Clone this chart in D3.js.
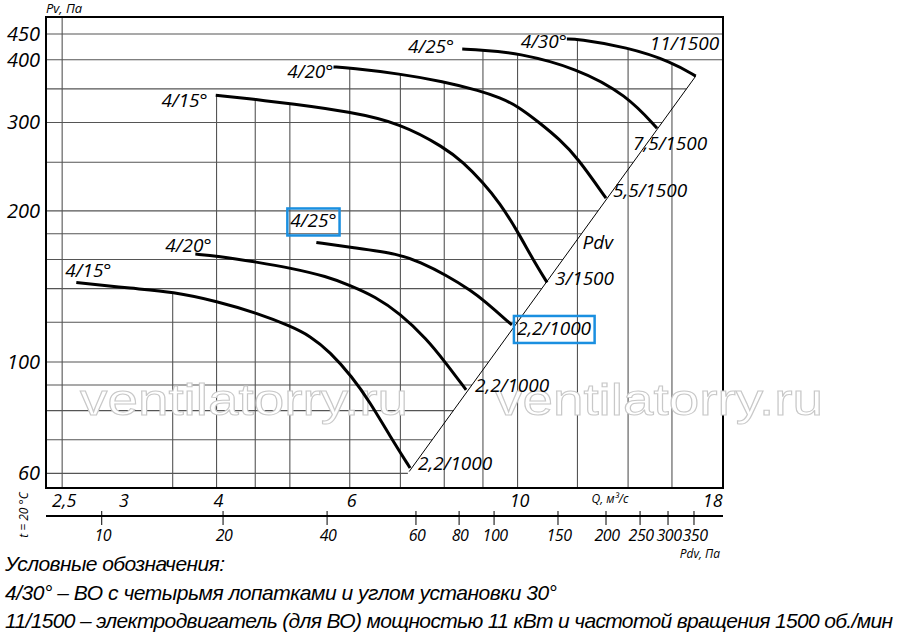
<!DOCTYPE html>
<html>
<head>
<meta charset="utf-8">
<script src="https://cdn.jsdelivr.net/npm/d3@7"></script>
<style>
  body { margin: 0; background: #fff; }
  svg { display: block; }
  .lbl { font-family: "Open Sans", "Noto Sans", sans-serif; font-style: italic; fill: #000; }
  .legend { font-family: "Liberation Sans Narrow", "Liberation Sans", Arial, sans-serif; font-style: italic; fill: #000; }
</style>
</head>
<body>
<div id="chart"></div>
<script>

// axis values
var qTicks = [2.5, 3, 4, 6, 10, 18];
var qTickLabels = ["2,5", "3", "4", "6", "10", "18"];
var qGrid = [2.5, 3.5, 4, 4.5, 5, 6, 7, 8, 9, 10, 12, 14, 16];
var pTicks = [60, 100, 200, 300, 400, 450];
var pGrid = [60, 70, 80, 90, 100, 120, 140, 160, 180, 200, 250, 300, 350, 400, 450];
var pdvTicks = [10, 20, 40, 60, 80, 100, 150, 200, 250, 300, 350];
var pdvTickQ = [2.82, 4.08, 5.6, 7.34, 8.37, 9.31, 11.31, 13.09, 14.52, 15.81, 17.11]; // Q under each Pdv tick

// curves [Q m3/s, Pv Pa], 1000 rpm
var c1000_15 = [[2.61,144],[3.10,140],[3.50,138],[4.01,132],[4.53,125],[5.00,118],[5.32,112.7],[5.65,104.7],[6.04,93.5],[6.38,83.2],[6.78,71.2],[7.21,61.5]];
var c1000_20 = [[3.75,164],[4.01,162.6],[4.53,158],[5.00,154],[5.60,148],[6.01,142],[6.48,135],[6.99,125],[7.59,111],[8.02,100],[8.55,88]];
var c1000_25 = [[5.42,173],[6.04,169],[6.99,164],[7.43,158],[8.02,149.5],[8.73,138],[9.00,133],[9.83,118.5]];
// 1500 rpm
var c1500_15 = [[3.99,340],[4.53,333],[5.00,327],[6.01,315],[6.99,299],[8.02,267],[8.47,250],[9.00,228],[9.48,207],[9.98,183],[10.48,160],[10.94,144]];
var c1500_20 = [[5.71,387],[6.01,385],[6.99,375],[7.97,362],[8.92,347],[9.48,336],[9.98,324],[10.71,299],[11.38,277],[11.98,256],[13.09,212]];
var c1500_25 = [[8.45,420],[9.00,418],[9.98,413],[11.98,385],[13.95,340],[15.29,292]];
var c1500_30 = [[11.62,440],[11.98,440],[13.95,424],[16.0,396],[17.2,371]];

var curveSets = [c1000_15, c1000_20, c1000_25, c1500_15, c1500_20, c1500_25, c1500_30];
var startLabels = ["4/15°", "4/20°", "4/25°", "4/15°", "4/20°", "4/25°", "4/30°"];
var endLabels = ["2,2/1000", "2,2/1000", "2,2/1000", "3/1500", "5,5/1500", "7,5/1500", "11/1500"];

var pdvLine = [[7.19, 60.5], [17.2, 371]];

var legendLines = [
  "Условные обозначения:",
  "4/30° – ВО с четырьмя лопатками и углом установки 30°",
  "11/1500 – электродвигатель (для ВО) мощностью 11 кВт и частотой вращения 1500 об./мин"
];

// ------------------------------------------------------------
var width = 900, height = 640;
var plot = { left: 46, right: 723, top: 17, bottom: 488 };

var svg = d3.select("#chart").append("svg")
  .attr("width", width)
  .attr("height", height);

var x = d3.scaleLog().domain([2.38, 18.69]).range([plot.left, plot.right]);
var y = d3.scaleLog().domain([56.1, 486.6]).range([plot.bottom, plot.top]);

var gGrid = svg.append("g");
var gMark = svg.append("g");
var gCurves = svg.append("g");
var gText = svg.append("g");

// basis smooths the hand-read points a little
var line = d3.line()
  .x(function(d) { return x(d[0]); })
  .y(function(d) { return y(d[1]); })
  .curve(d3.curveBasis);

// curves
var paths = gCurves.selectAll("path.curve")
  .data(curveSets)
  .enter()
  .append("path")
  .attr("class", "curve")
  .attr("d", line)
  .attr("fill", "none")
  .attr("stroke", "#000")
  .attr("stroke-width", 3)
  .nodes();

// Pdv line
gCurves.append("path")
  .attr("d", d3.line().x(function(d) { return x(d[0]); }).y(function(d) { return y(d[1]); })(pdvLine))
  .attr("stroke", "#000")
  .attr("stroke-width", 1)
  .attr("fill", "none");

function yOnPath(node, px) {
  var len = node.getTotalLength();
  var a = node.getPointAtLength(0), b = node.getPointAtLength(len);
  if (px < a.x || px > b.x) return null;
  var lo = 0, hi = len;
  for (var i = 0; i < 30; i++) {
    var mid = (lo + hi) / 2;
    if (node.getPointAtLength(mid).x < px) lo = mid; else hi = mid;
  }
  return node.getPointAtLength((lo + hi) / 2).y;
}

// vertical grid, stops at the highest curve
qGrid.forEach(function(q) {
  var px = x(q);
  var tops = paths.map(function(n) { return yOnPath(n, px); }).filter(function(v) { return v != null; });
  var top = tops.length ? d3.min(tops) : plot.top;
  gGrid.append("line")
    .attr("x1", px).attr("x2", px)
    .attr("y1", top).attr("y2", plot.bottom)
    .attr("stroke", "#555")
    .attr("stroke-width", 1.1);
});

// horizontal grid, stops at the Pdv line
var pb = { x: x(pdvLine[0][0]), y: y(pdvLine[0][1]) };
var pt = { x: x(pdvLine[1][0]), y: y(pdvLine[1][1]) };
pGrid.forEach(function(p) {
  var py = y(p);
  var xe = py < pt.y ? plot.right : pb.x + (pt.x - pb.x) * (py - pb.y) / (pt.y - pb.y);
  gGrid.append("line")
    .attr("x1", plot.left).attr("x2", xe)
    .attr("y1", py).attr("y2", py)
    .attr("stroke", "#555")
    .attr("stroke-width", 1.1);
});

// frame
gGrid.append("rect")
  .attr("x", plot.left).attr("y", plot.top)
  .attr("width", plot.right - plot.left)
  .attr("height", plot.bottom - plot.top)
  .attr("fill", "none")
  .attr("stroke", "#000")
  .attr("stroke-width", 2);

// watermark
[80, 495].forEach(function(wx) {
  gMark.append("text")
    .attr("x", wx).attr("y", 415)
    .attr("textLength", 328)
    .attr("lengthAdjust", "spacingAndGlyphs")
    .attr("font-family", "Liberation Sans, Arial, sans-serif")
    .attr("font-size", 45)
    .attr("fill", "#fff")
    .attr("stroke", "#c8c8c8")
    .attr("stroke-width", 1)
    .text("ventilatorry.ru");
});

// y tick labels
gText.selectAll("text.ytick")
  .data(pTicks)
  .enter().append("text")
  .attr("class", "lbl ytick")
  .attr("x", 40)
  .attr("y", function(d) { return y(d) + 7; })
  .attr("text-anchor", "end")
  .attr("font-size", 20)
  .text(function(d) { return d; });

gText.append("text")
  .attr("class", "lbl")
  .attr("x", 46).attr("y", 13)
  .attr("font-size", 13)
  .text("Pv, Па");

// Q labels
gText.selectAll("text.xtick")
  .data(qTicks)
  .enter().append("text")
  .attr("class", "lbl xtick")
  .attr("x", function(d) { return x(d) + 2; })
  .attr("y", 507)
  .attr("text-anchor", "middle")
  .attr("font-size", 18)
  .text(function(d, i) { return qTickLabels[i]; });

gText.append("text")
  .attr("class", "lbl")
  .attr("x", 610).attr("y", 503)
  .attr("text-anchor", "middle")
  .attr("font-size", 12)
  .text("Q, м³/с");

// Pdv axis
gText.append("line")
  .attr("x1", plot.left).attr("x2", plot.right)
  .attr("y1", 516).attr("y2", 516)
  .attr("stroke", "#000").attr("stroke-width", 2);

gText.selectAll("line.pdvtick")
  .data(pdvTickQ)
  .enter().append("line")
  .attr("class", "pdvtick")
  .attr("x1", function(d) { return x(d); })
  .attr("x2", function(d) { return x(d); })
  .attr("y1", 511).attr("y2", 525)
  .attr("stroke", "#000").attr("stroke-width", 1);

gText.selectAll("text.pdvlabel")
  .data(pdvTicks)
  .enter().append("text")
  .attr("class", "lbl pdvlabel")
  .attr("x", function(d, i) { return x(pdvTickQ[i]) + 1; })
  .attr("y", 541)
  .attr("text-anchor", "middle")
  .attr("font-size", 16)
  .attr("letter-spacing", -0.5)
  .text(function(d) { return d; });

gText.append("text")
  .attr("class", "lbl")
  .attr("x", 720).attr("y", 558)
  .attr("text-anchor", "end")
  .attr("font-size", 12)
  .text("Pdv, Па");

gText.append("text")
  .attr("class", "lbl")
  .attr("transform", "translate(28,515) rotate(-90)")
  .attr("text-anchor", "middle")
  .attr("font-size", 12)
  .text("t = 20 °C");

// curve labels, offsets from curve start / end
var startOffset = [[-11,-5,"start"],[-30,-2,"start"],[-26,-15,"start"],[-8,12,"end"],[0,11,"end"],[-8,4,"end"],[0,9,"end"]];
var endOffset = [[8,2],[9,2],[5,10],[8,3],[7,-1],[-24,22],[-46,-26]];
var boxed = [false, false, true, false, false, false, false];

function boxIt(node) {
  var b = node.getBBox();
  gText.append("rect")
    .attr("x", b.x - 3).attr("y", b.y + 1)
    .attr("width", b.width + 6).attr("height", b.height + 1)
    .attr("fill", "none")
    .attr("stroke", "#1a8fe0")
    .attr("stroke-width", 2.5);
}

curveSets.forEach(function(c, i) {
  var s = c[0], e = c[c.length - 1];
  var t1 = gText.append("text")
    .attr("class", "lbl")
    .attr("x", x(s[0]) + startOffset[i][0])
    .attr("y", y(s[1]) + startOffset[i][1])
    .attr("text-anchor", startOffset[i][2])
    .attr("font-size", 19)
    .text(startLabels[i]);
  var t2 = gText.append("text")
    .attr("class", "lbl")
    .attr("x", x(e[0]) + endOffset[i][0])
    .attr("y", y(e[1]) + endOffset[i][1])
    .attr("font-size", 19)
    .text(endLabels[i]);
  if (boxed[i]) { boxIt(t1.node()); boxIt(t2.node()); }
});

// Pdv label on the line
var tp = 0.584;
gText.append("text")
  .attr("class", "lbl")
  .attr("x", pb.x + (pt.x - pb.x) * tp + 6)
  .attr("y", pb.y + (pt.y - pb.y) * tp + 8)
  .attr("font-size", 19)
  .text("Pdv");

// legend text
var legendWidths = [220, 552, 888];
svg.selectAll("text.legend")
  .data(legendLines)
  .enter().append("text")
  .attr("class", "legend")
  .attr("x", 5)
  .attr("y", function(d, i) { return 571 + i * 28.5; })
  .attr("font-size", 21)
  .attr("textLength", function(d, i) { return legendWidths[i]; })
  .attr("lengthAdjust", "spacing")
  .text(function(d) { return d; });

</script>
</body>
</html>
